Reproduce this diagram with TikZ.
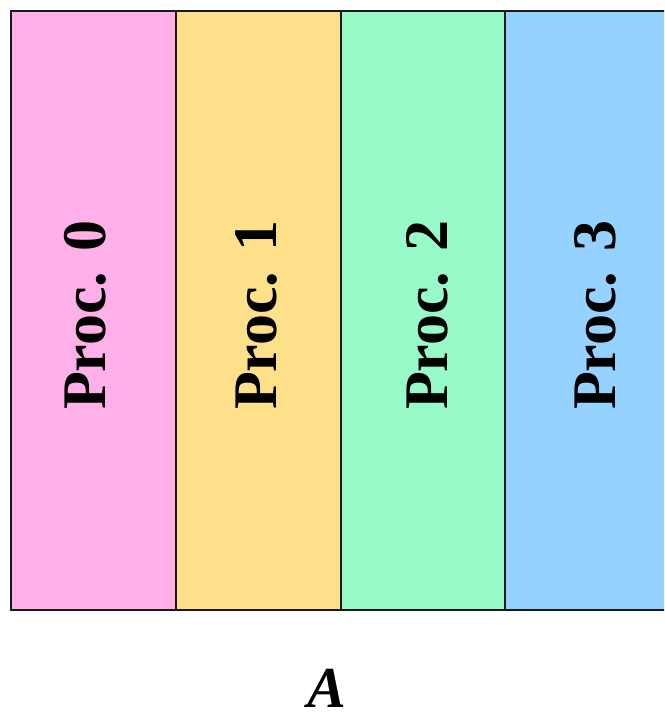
\documentclass[tikz,border=0pt]{standalone}
\usepackage{fontspec}
\setmainfont{Liberation Serif}
\definecolor{procpink}{RGB}{255,176,232}
\definecolor{procyellow}{RGB}{255,224,138}
\definecolor{procgreen}{RGB}{152,250,200}
\definecolor{procblue}{RGB}{150,210,255}
\tikzset{
  column/.style={draw=black!90, line width=2.5pt},
  proclabel/.style={rotate=90, anchor=base, inner sep=0pt, font=\fontsize{62}{62}\selectfont\bfseries},
}
\begin{document}
\begin{tikzpicture}[x=1pt,y=-1pt]
  \useasboundingbox (0,0) rectangle (664,717);
  \clip (0,0) rectangle (664,717);
  % four processor columns of the distributed array
  \draw[column, fill=procpink]   (11,11)  rectangle (176,610);
  \draw[column, fill=procyellow] (176,11) rectangle (341,610);
  \draw[column, fill=procgreen]  (341,11) rectangle (505,610);
  \draw[column, fill=procblue]   (505,11) rectangle (672,610);
  % rotated owner labels
  \node[proclabel] (p0) at (105,315) {Proc. 0};
  \node[proclabel] (p1) at (276.5,315) {Proc. 1};
  \node[proclabel] (p2) at (447.5,315) {Proc. 2};
  \node[proclabel] (p3) at (615,315) {Proc. 3};
  % array name
  \node[anchor=base, inner sep=0pt, font=\fontsize{58}{58}\selectfont\bfseries\itshape] (arr) at (327,707) {A};
\end{tikzpicture}
\end{document}
